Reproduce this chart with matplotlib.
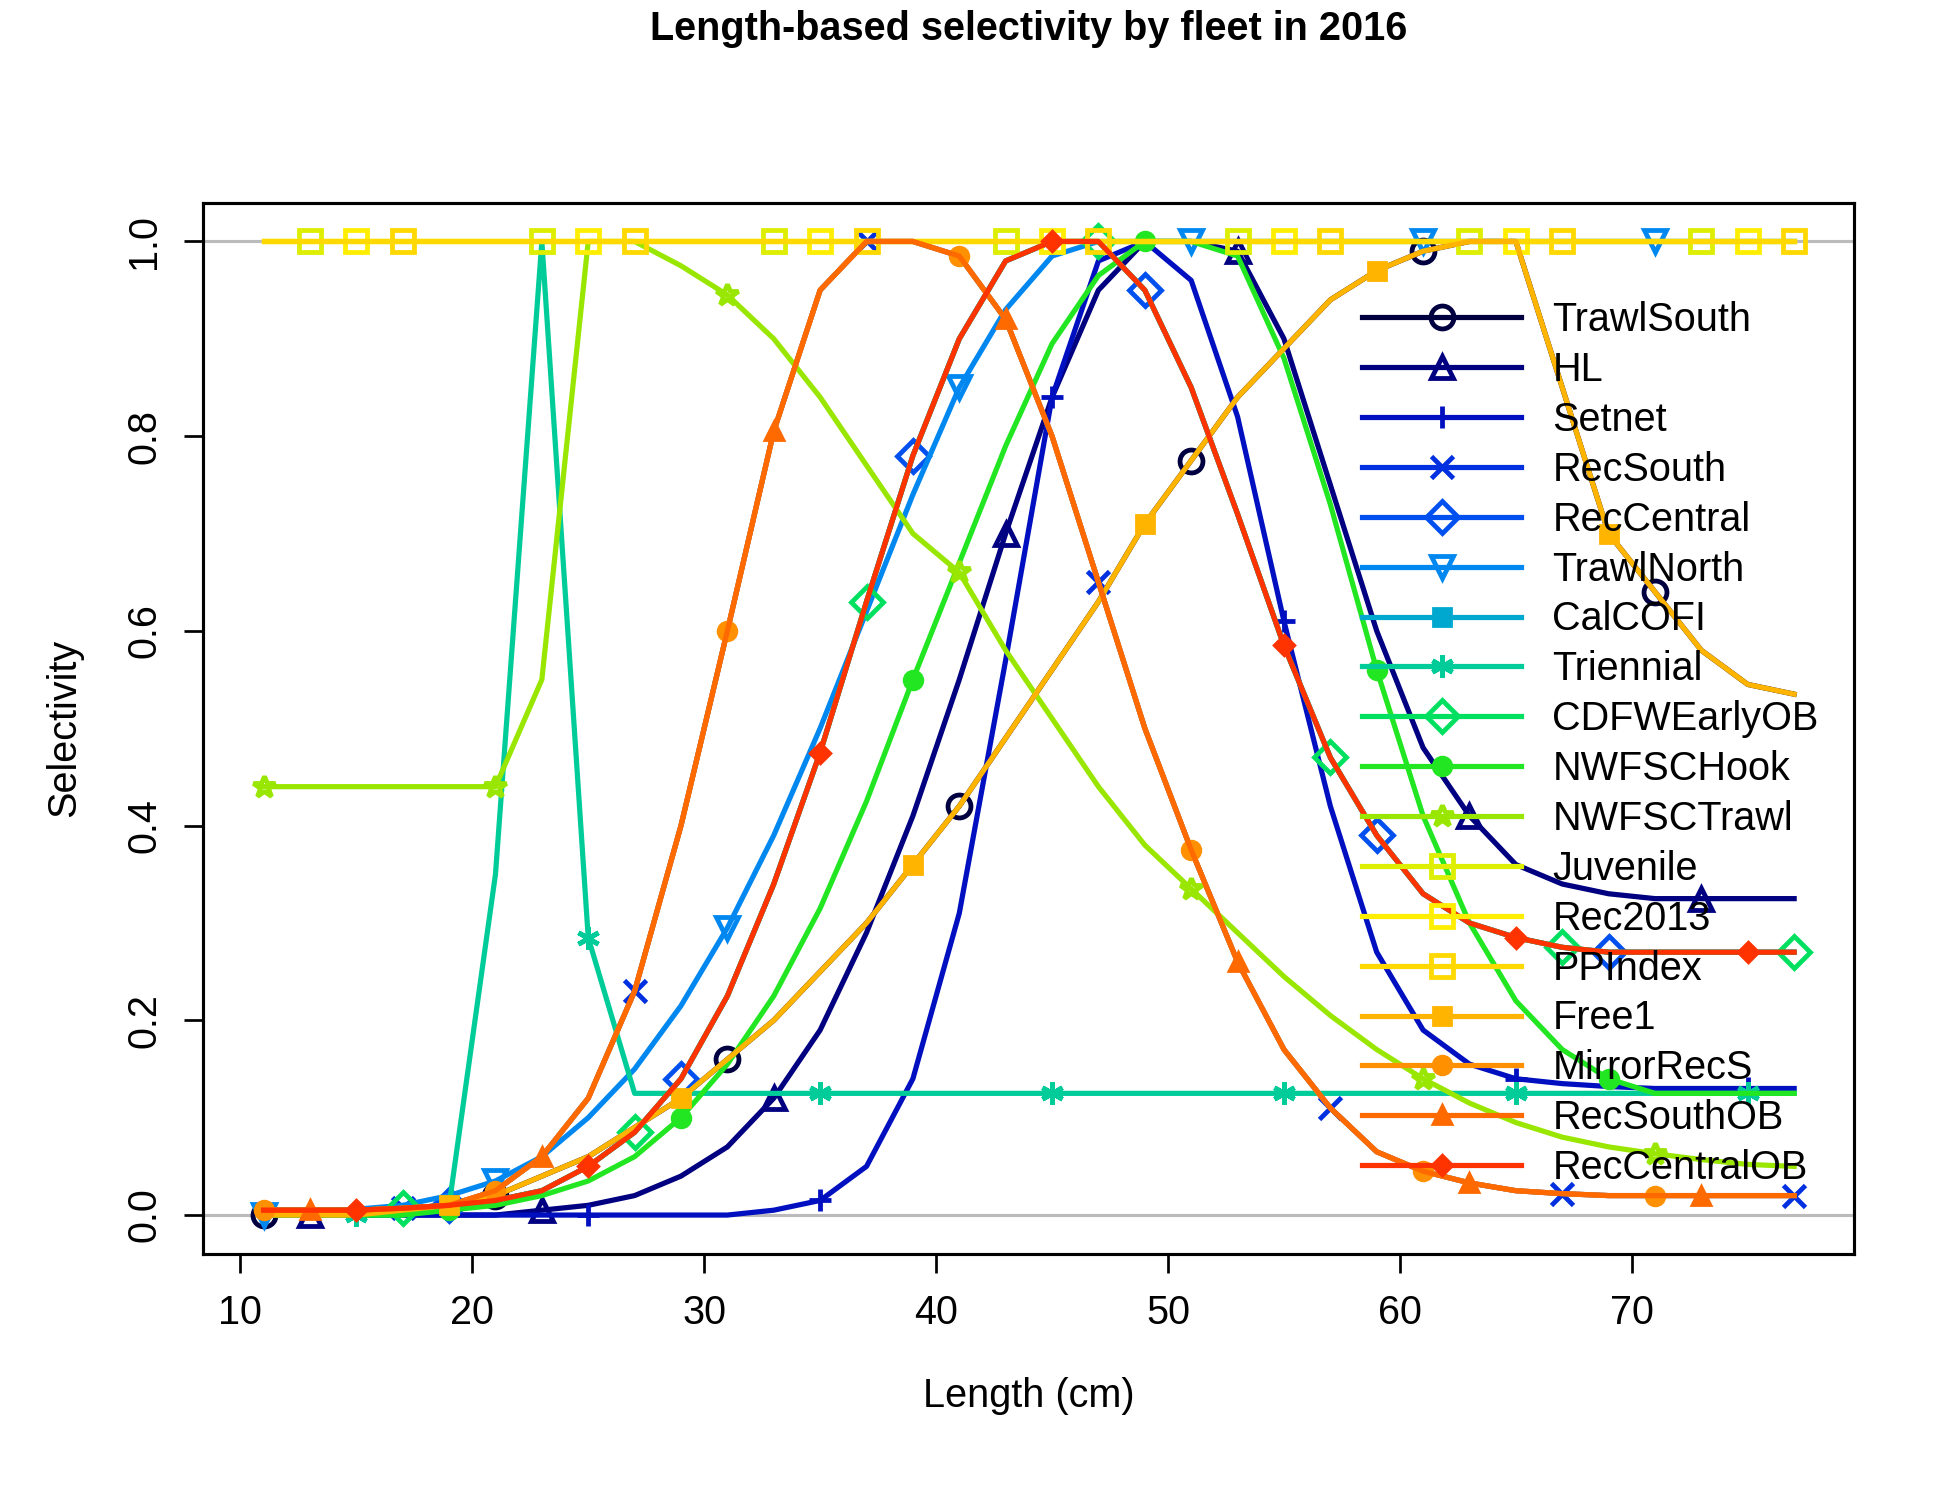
import numpy as np
import matplotlib
matplotlib.use("Agg")
import matplotlib.pyplot as plt

plt.rcParams["font.family"] = ["Liberation Sans", "DejaVu Sans"]

length = np.arange(11, 78, 2)

trawl_south = [0, 0, 0, 0.005, 0.01, 0.02, 0.04, 0.06, 0.09, 0.12, 0.16, 0.2, 0.25, 0.3, 0.36, 0.42, 0.49,
               0.56, 0.63, 0.71, 0.775, 0.84, 0.89, 0.94, 0.97, 0.99, 1.0, 1.0, 0.85, 0.7, 0.64, 0.58, 0.545, 0.535]
hl = [0, 0, 0, 0, 0, 0, 0.005, 0.01, 0.02, 0.04, 0.07, 0.12, 0.19, 0.29, 0.41, 0.55, 0.70, 0.84, 0.95,
      1.0, 1.0, 0.99, 0.9, 0.75, 0.6, 0.48, 0.41, 0.36, 0.34, 0.33, 0.325, 0.325, 0.325, 0.325]
setnet = [0, 0, 0, 0, 0, 0, 0, 0, 0, 0, 0, 0.005, 0.015, 0.05, 0.14, 0.31, 0.57, 0.84, 0.98, 1.0, 0.96,
          0.82, 0.61, 0.42, 0.27, 0.19, 0.155, 0.14, 0.135, 0.132, 0.13, 0.13, 0.13, 0.13]
rec_south_ob = [0.005, 0.005, 0.005, 0.007, 0.01, 0.025, 0.06, 0.12, 0.23, 0.4, 0.6, 0.805, 0.95, 1.0, 1.0,
                0.985, 0.92, 0.8, 0.65, 0.5, 0.375, 0.26, 0.17, 0.11, 0.065, 0.045, 0.033, 0.025, 0.022,
                0.02, 0.02, 0.02, 0.02, 0.02]
rec_central_ob = [0.005, 0.005, 0.005, 0.007, 0.01, 0.015, 0.025, 0.05, 0.085, 0.14, 0.225, 0.34, 0.475,
                  0.63, 0.78, 0.9, 0.98, 1.0, 1.0, 0.95, 0.85, 0.72, 0.585, 0.47, 0.39, 0.33, 0.3, 0.285,
                  0.275, 0.27, 0.27, 0.27, 0.27, 0.27]
trawl_north = [0, 0.003, 0.006, 0.01, 0.02, 0.035, 0.06, 0.1, 0.15, 0.215, 0.295, 0.39, 0.5, 0.62, 0.74,
               0.85, 0.93, 0.985, 1.0] + [1.0] * 15
calcofi = [np.nan] * 34  # not visible in the plot
triennial = [0, 0, 0, 0, 0.01, 0.35, 1.0, 0.285, 0.125] + [0.125] * 25
nwfsc_hook = [0, 0, 0, 0, 0.005, 0.01, 0.02, 0.035, 0.06, 0.1, 0.155, 0.225, 0.315, 0.425, 0.55, 0.67,
              0.79, 0.895, 0.965, 1.0, 1.0, 0.985, 0.88, 0.73, 0.56, 0.41, 0.3, 0.22, 0.17, 0.14, 0.125,
              0.125, 0.125, 0.125]
nwfsc_trawl = [0.44, 0.44, 0.44, 0.44, 0.44, 0.44, 0.55, 1.0, 1.0, 0.975, 0.945, 0.9, 0.84, 0.77, 0.7,
               0.66, 0.58, 0.51, 0.44, 0.38, 0.335, 0.29, 0.245, 0.205, 0.17, 0.14, 0.115, 0.095, 0.08,
               0.07, 0.063, 0.057, 0.052, 0.05]
flat = [1.0] * 34

fleets = ["TrawlSouth", "HL", "Setnet", "RecSouth", "RecCentral", "TrawlNorth", "CalCOFI", "Triennial",
          "CDFWEarlyOB", "NWFSCHook", "NWFSCTrawl", "Juvenile", "Rec2013", "PPIndex", "Free1",
          "MirrorRecS", "RecSouthOB", "RecCentralOB"]
values = [trawl_south, hl, setnet, rec_south_ob, rec_central_ob, trawl_north, calcofi, triennial,
          rec_central_ob, nwfsc_hook, nwfsc_trawl, flat, flat, flat, trawl_south, rec_south_ob,
          rec_south_ob, rec_central_ob]
colors = ["#000040", "#000080", "#0010C0", "#0030E0", "#0050F0", "#0088F0", "#00A8D0", "#00CC99",
          "#00E060", "#22E622", "#99E600", "#DDEE00", "#FFEE00", "#FFD800", "#FFB400", "#FF9000",
          "#FF6A00", "#FF3300"]
markers = ["o", "^", "+", "x", "D", "v", "s", (6, 2, 0), "D", "o", "*", "s", "s", "s", "s", "o", "^", "D"]
filled = [False, False, False, False, False, False, True, False, False, True, False, False, False, False,
          True, True, True, True]

fig = plt.figure(figsize=(13, 10), dpi=150)
ax = fig.add_axes([0.104, 0.164, 0.847, 0.701])
ax.axhline(0, color="#bbbbbb", lw=1.5, zorder=0)
ax.axhline(1, color="#bbbbbb", lw=1.5, zorder=0)

for i, (name, v, c, m, f) in enumerate(zip(fleets, values, colors, markers, filled)):
    if name == "RecCentralOB":
        ms = 6
    elif f:
        ms = 8
    else:
        ms = 11
    ax.plot(length, v, color=c, lw=2.5, marker=m, markevery=slice(i % 5, None, 5), ms=ms,
            mfc=c if f else "none", mec=c, mew=2.3, label=name)

ax.set_xlim(8.38, 79.6)
ax.set_ylim(-0.04, 1.04)
ax.set_xticks([10, 20, 30, 40, 50, 60, 70])
ax.set_yticks([0.0, 0.2, 0.4, 0.6, 0.8, 1.0])
ax.set_yticklabels(["0.0", "0.2", "0.4", "0.6", "0.8", "1.0"], rotation=90, va="center")
ax.tick_params(labelsize=19, length=9, width=1.3, pad=10)
for s in ax.spines.values():
    s.set_linewidth(1.5)
ax.set_xlabel("Length (cm)", fontsize=19, labelpad=22)
ax.set_ylabel("Selectivity", fontsize=19, labelpad=20)
ax.set_title("Length-based selectivity by fleet in 2016", fontsize=19, fontweight="bold", pad=78)

ax.legend(loc="upper right", bbox_to_anchor=(1.0, 0.94), frameon=False, fontsize=19, handlelength=4,
          labelspacing=0.3, handletextpad=0.8)

fig.savefig("out.png", dpi=150)
